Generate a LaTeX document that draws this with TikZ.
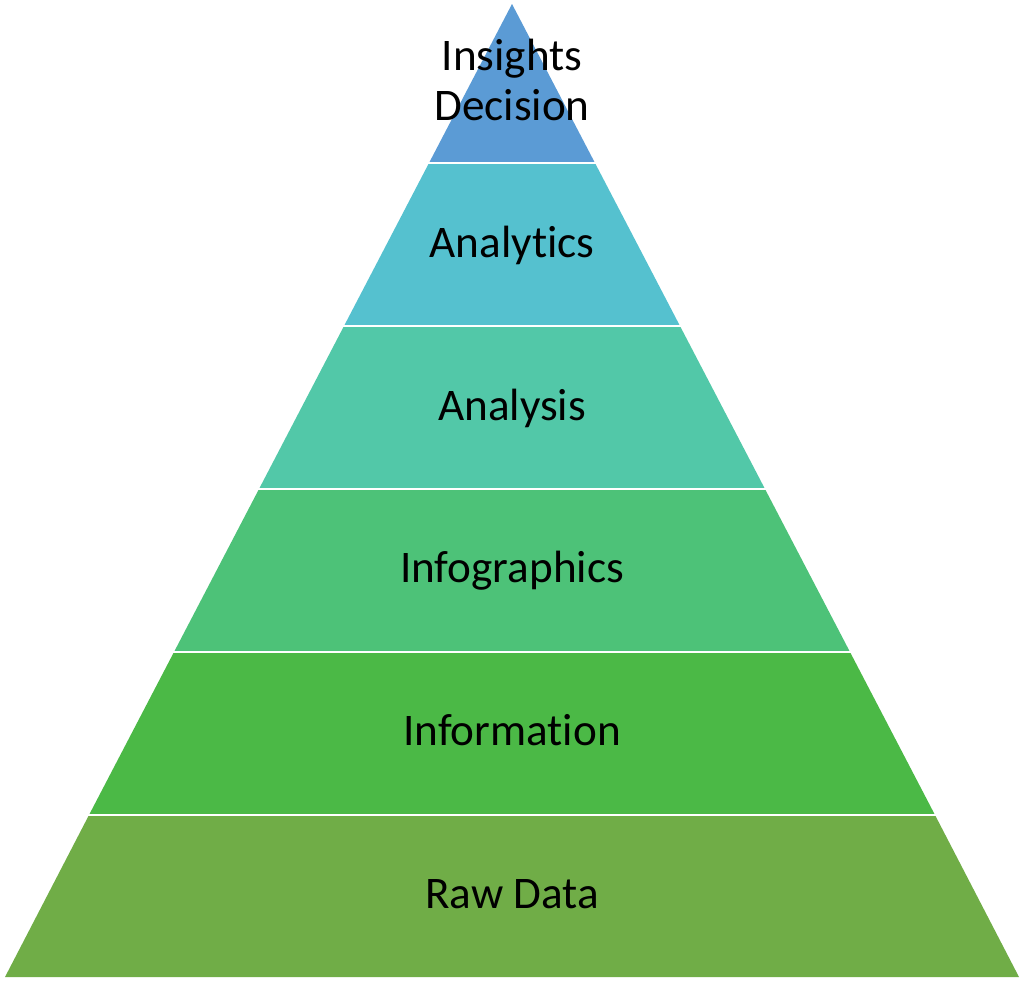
\documentclass[tikz,border=0pt]{standalone}
\usepackage{fontspec}
\setmainfont{Carlito}[Ligatures={NoCommon}]
\definecolor{cTop}{HTML}{5B9BD5}
\definecolor{cAnalytics}{HTML}{55C1CF}
\definecolor{cAnalysis}{HTML}{52C8A8}
\definecolor{cInfog}{HTML}{4DC278}
\definecolor{cInfo}{HTML}{4BB946}
\definecolor{cRaw}{HTML}{70AD47}
\tikzset{
  sep/.style={draw=white, line width=2.5pt},
  lbl/.style={anchor=base, inner sep=0pt, font=\fontsize{45.2}{50}\selectfont, text=black}
}
\begin{document}
\begin{tikzpicture}[x=1pt,y=-1pt]
\useasboundingbox (0,0) rectangle (1024,980);
\fill[white] (0,0) rectangle (1024,980);
\fill[cTop] (512,4) -- (595,163) -- (429,163) -- cycle;
\fill[cAnalytics] (429,163) -- (595,163) -- (680,326) -- (344,326) -- cycle;
\fill[cAnalysis] (344,326) -- (680,326) -- (765,489) -- (259,489) -- cycle;
\fill[cInfog] (259,489) -- (765,489) -- (850,652) -- (174,652) -- cycle;
\fill[cInfo] (174,652) -- (850,652) -- (935,815) -- (89,815) -- cycle;
\fill[cRaw] (89,815) -- (935,815) -- (1019,977) -- (5,977) -- cycle;
\draw[sep] (420,163) -- (604,163);
\draw[sep] (335,326) -- (689,326);
\draw[sep] (250,489) -- (774,489);
\draw[sep] (165,652) -- (859,652);
\draw[sep] (80,815) -- (944,815);
\node[lbl] (insights) at (512,70) {Insights};
\node[lbl] (decision) at (512,120) {Decision};
\node[lbl] (analytics) at (512,257) {Analytics};
\node[lbl] (analysis) at (512,420) {Analysis};
\node[lbl] (infographics) at (512,582) {Infographics};
\node[lbl] (information) at (512,745) {Information};
\node[lbl] (rawdata) at (512,908) {Raw Data};
\end{tikzpicture}
\end{document}
